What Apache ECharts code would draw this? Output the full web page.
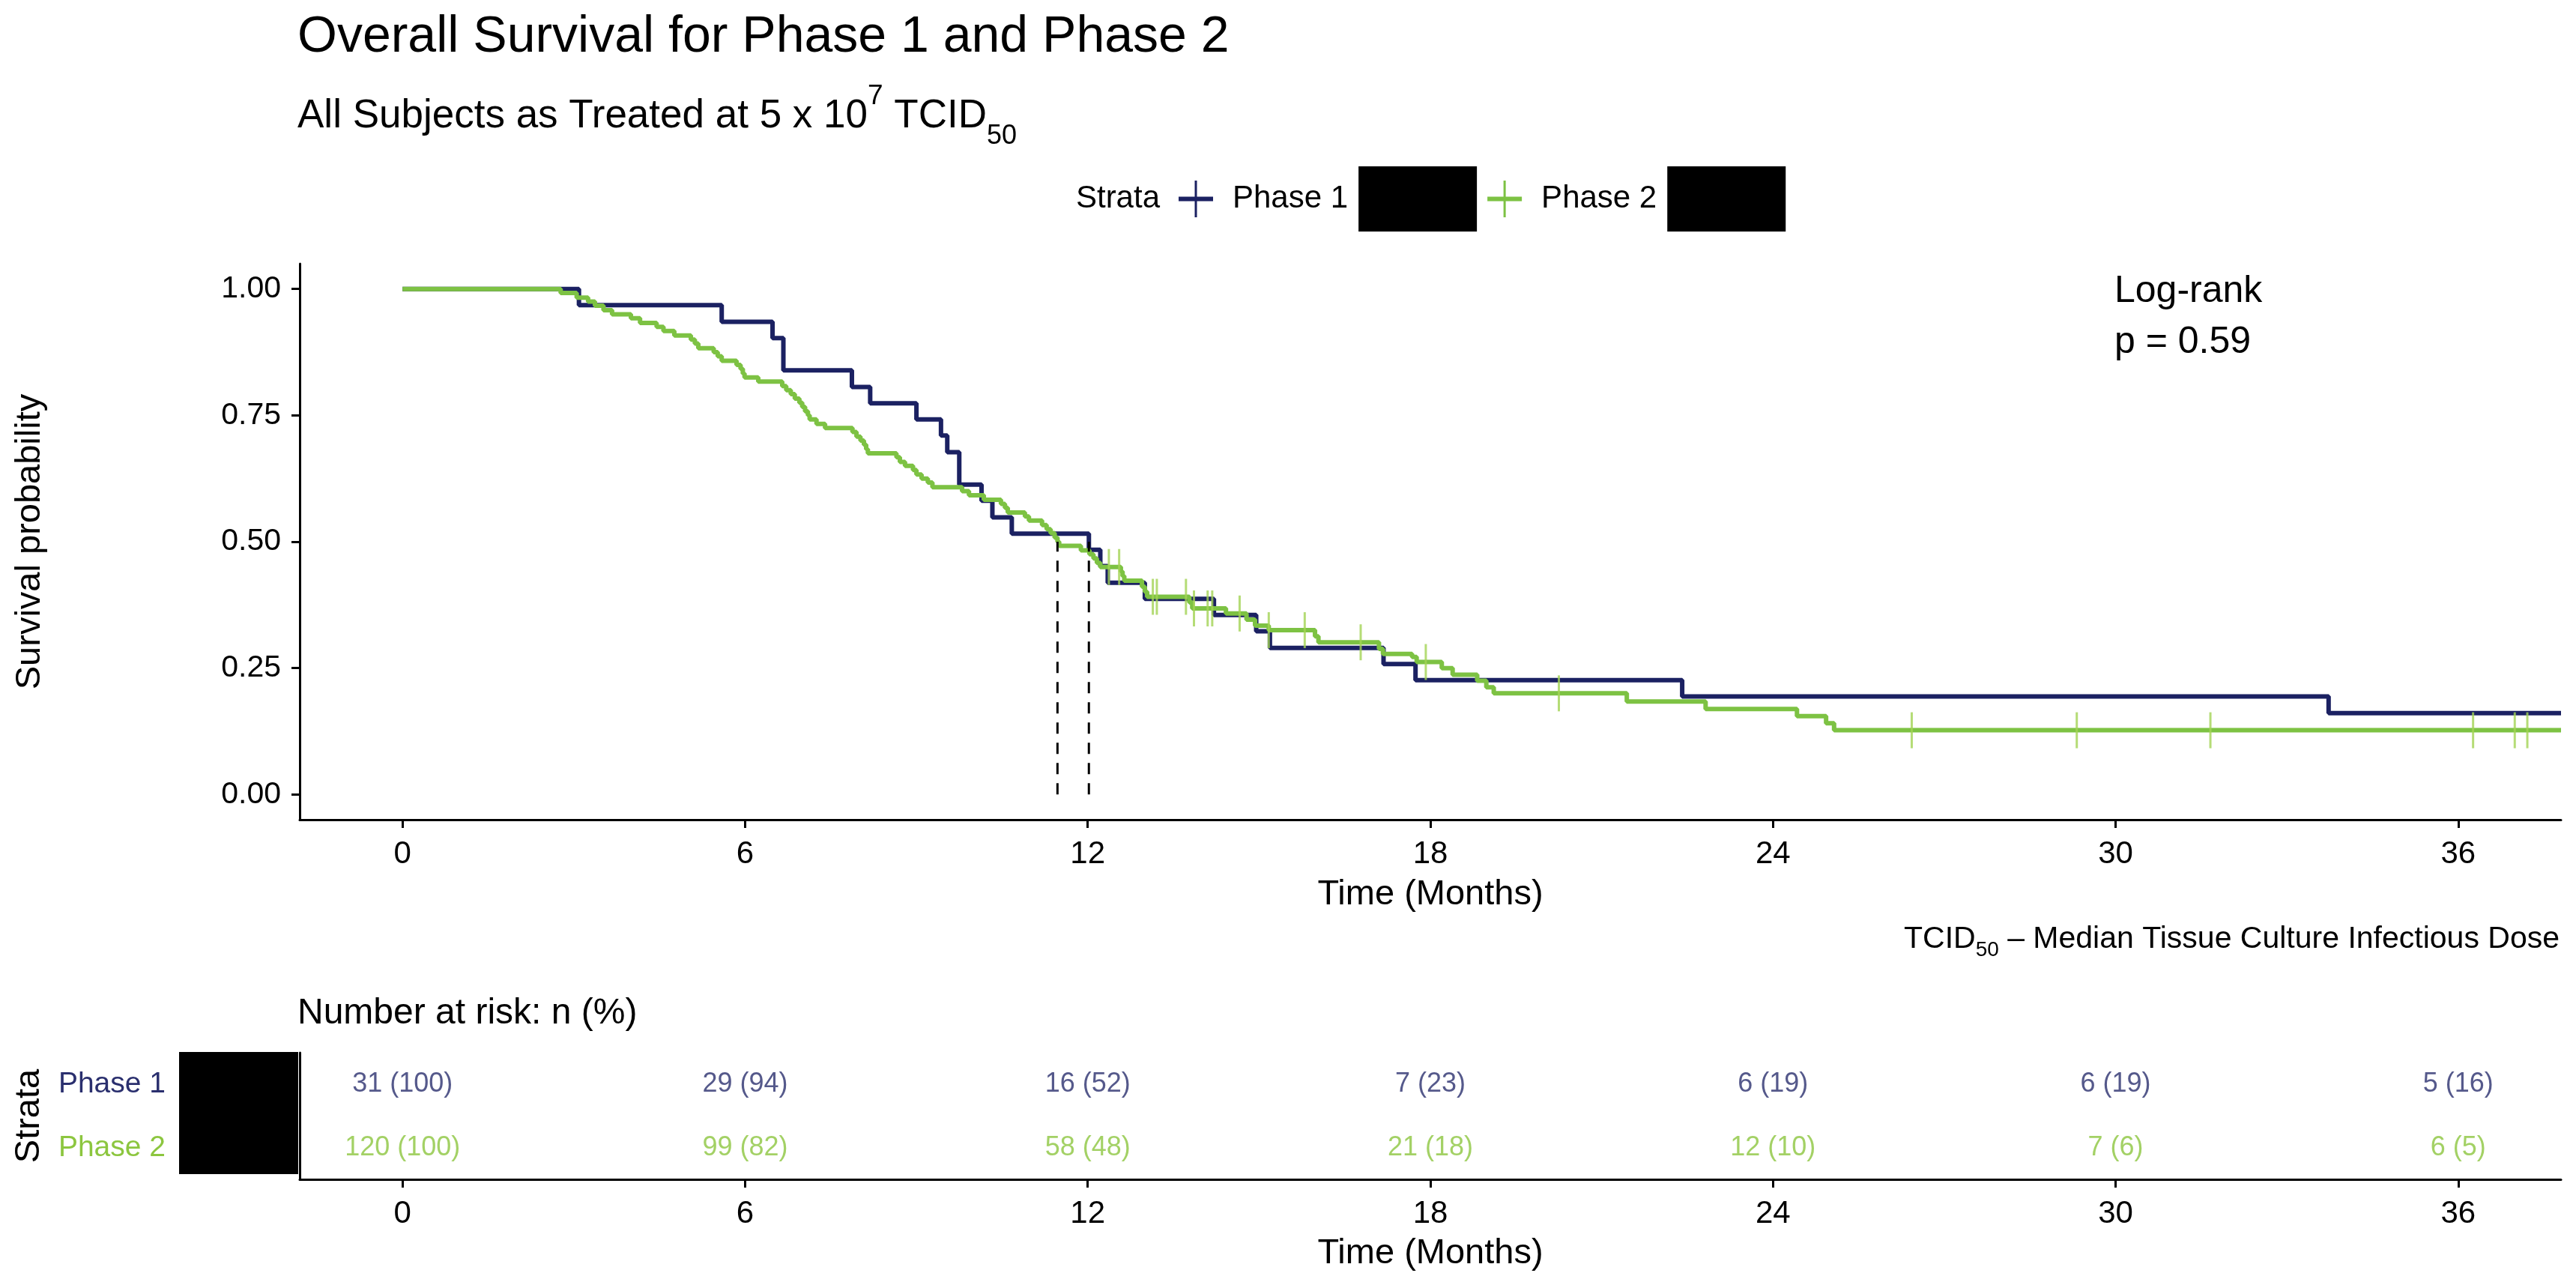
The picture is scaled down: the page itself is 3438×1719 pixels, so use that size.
<!DOCTYPE html>
<html>
<head>
<meta charset="utf-8">
<style>
  html, body { margin: 0; padding: 0; background: #ffffff; }
  #chart { width: 3438px; height: 1719px; }
</style>
<script src="https://cdn.jsdelivr.net/npm/echarts@6/dist/echarts.min.js"></script>
</head>
<body>
<div id="chart"></div>
<script>
// ---------------- data ----------------
const timeTicks = [0, 6, 12, 18, 24, 30, 36];
const survTicks = [0, 0.25, 0.5, 0.75, 1];
const strataNames = ['Phase 1', 'Phase 2'];

// Kaplan-Meier steps: [time (months), survival after event]
const phase1Steps = [
  [0, 1.000], [3.09, 0.968], [5.59, 0.935], [6.48, 0.903], [6.67, 0.839],
  [7.87, 0.806], [8.19, 0.774], [9.00, 0.742], [9.43, 0.710], [9.54, 0.677],
  [9.75, 0.613], [10.14, 0.581], [10.33, 0.548], [10.67, 0.516], [12.02, 0.484],
  [12.22, 0.452], [12.35, 0.419], [13.00, 0.387], [14.21, 0.355], [14.95, 0.323],
  [15.19, 0.290], [17.18, 0.258], [17.74, 0.226], [22.41, 0.194], [33.73, 0.161]
];
const phase2Steps = [
  [0, 1.000], [2.77, 0.992], [3.05, 0.983], [3.25, 0.975], [3.37, 0.967],
  [3.52, 0.958], [3.67, 0.950], [4.00, 0.942], [4.16, 0.933], [4.45, 0.925],
  [4.57, 0.917], [4.76, 0.908], [5.05, 0.900], [5.12, 0.892], [5.18, 0.883],
  [5.45, 0.875], [5.52, 0.867], [5.59, 0.858], [5.85, 0.850], [5.92, 0.842],
  [5.96, 0.833], [5.99, 0.825], [6.23, 0.817], [6.65, 0.808], [6.72, 0.800],
  [6.80, 0.792], [6.87, 0.783], [6.95, 0.775], [7.00, 0.767], [7.05, 0.758],
  [7.10, 0.750], [7.13, 0.742], [7.25, 0.733], [7.40, 0.725], [7.88, 0.717],
  [7.95, 0.708], [8.02, 0.700], [8.08, 0.692], [8.12, 0.683], [8.15, 0.675],
  [8.65, 0.667], [8.71, 0.658], [8.80, 0.650], [8.94, 0.642], [9.00, 0.633],
  [9.09, 0.625], [9.20, 0.617], [9.28, 0.608], [9.80, 0.600], [9.92, 0.592],
  [10.18, 0.583], [10.48, 0.575], [10.55, 0.567], [10.60, 0.558], [10.90, 0.550],
  [10.97, 0.542], [11.20, 0.533], [11.28, 0.525], [11.35, 0.517], [11.42, 0.508],
  [11.47, 0.500], [11.50, 0.492], [11.88, 0.483], [12.03, 0.475], [12.10, 0.467],
  [12.16, 0.458], [12.22, 0.450], [12.58, 0.441], [12.61, 0.432], [12.64, 0.423],
  [12.95, 0.411], [13.00, 0.401], [13.04, 0.391], [13.78, 0.380], [13.83, 0.368],
  [14.42, 0.358], [14.78, 0.346], [14.93, 0.334], [15.17, 0.325], [15.98, 0.313],
  [16.04, 0.301], [17.10, 0.288], [17.17, 0.278], [17.68, 0.272], [17.76, 0.262],
  [18.20, 0.250], [18.39, 0.237], [18.82, 0.225], [18.98, 0.212], [19.11, 0.200],
  [21.44, 0.184], [22.82, 0.169], [24.42, 0.155], [24.93, 0.141], [25.07, 0.127]
];
const phase2CensorTimes = [
  12.37, 12.55, 13.14, 13.21, 13.72, 13.86, 14.10, 14.18, 14.66, 15.17,
  15.80, 16.78, 17.92, 20.25, 26.43, 29.32, 31.66, 36.26, 36.99, 37.21
];
const medianTimes = [12.02, 11.47];   // Phase 1, Phase 2

// Number at risk table
const riskN1 = [31, 29, 16, 7, 6, 6, 5];
const riskPct1 = [100, 94, 52, 23, 19, 19, 16];
const riskN2 = [120, 99, 58, 21, 12, 7, 6];
const riskPct2 = [100, 82, 48, 18, 10, 6, 5];

// ---------------- style ----------------
const BLUE = '#1b2162';
const GREEN = '#7dc243';
const CENSOR = '#a3d354';
const BLUE_TXT = '#2a2f6e';
const GREEN_TXT = '#8cc63f';
const FONT = '"Liberation Sans", Arial, sans-serif';
const X_MIN = -1.8, X_MAX = 37.8;

function survAt(steps, t) {
  let s = steps[0][1];
  for (const p of steps) { if (p[0] <= t) s = p[1]; else break; }
  return s;
}
function withEnd(steps) {
  return steps.concat([[X_MAX, steps[steps.length - 1][1]]]);
}

const plusIcon = 'path://M0,21.5L46,21.5L46,27.5L0,27.5Z M21.5,0L24.5,0L24.5,49L21.5,49Z';

const chart = echarts.init(document.getElementById('chart'), null, { renderer: 'canvas' });

const axisLineStyle = { color: '#000', width: 3 };

const option = {
  animation: false,
  backgroundColor: '#ffffff',
  textStyle: { fontFamily: FONT },
  title: [
    {
      text: 'Overall Survival for Phase 1 and Phase 2',
      left: 397, top: 16, padding: 0,
      textStyle: { fontSize: 68, fontWeight: 'normal', color: '#000', fontFamily: FONT }
    },
    {
      text: '{a|All Subjects as Treated at 5 x 10}{p|7}{a| TCID}{b|50}',
      left: 397, top: 110, padding: 0,
      textStyle: {
        fontFamily: FONT, fontWeight: 'normal',
        rich: {
          a: { fontSize: 53, lineHeight: 90, color: '#000', fontFamily: FONT, fontWeight: 'normal' },
          p: { fontSize: 37, lineHeight: 37, verticalAlign: 'top', color: '#000', fontFamily: FONT, fontWeight: 'normal' },
          b: { fontSize: 36, lineHeight: 56, verticalAlign: 'bottom', color: '#000', fontFamily: FONT, fontWeight: 'normal' }
        }
      }
    },
    {
      text: 'Number at risk: n (%)',
      left: 397, top: 1353 - 24, padding: 0,
      textStyle: { fontSize: 48, fontWeight: 'normal', color: '#000', fontFamily: FONT }
    }
  ],
  legend: {
    data: [
      { name: strataNames[0], icon: plusIcon },
      { name: strataNames[1], icon: plusIcon }
    ],
    left: 1573, top: 222, padding: 0,
    itemWidth: 46, itemHeight: 49, itemGap: 14,
    selectedMode: false,
    formatter: function (name) { return '{s|}{t|' + name + '}{s2|}{k|}'; },
    textStyle: {
      fontSize: 42, color: '#000', fontFamily: FONT,
      rich: {
        s: { width: 21 },
        t: { fontSize: 42, color: '#000', fontFamily: FONT },
        s2: { width: 14 },
        k: { width: 158, height: 87, backgroundColor: '#000' }
      }
    }
  },
  grid: [
    { left: 400, top: 352, width: 3018, height: 742, containLabel: false, outerBoundsMode: 'none' },
    { left: 400, top: 1405, width: 3018, height: 169, containLabel: false, outerBoundsMode: 'none' }
  ],
  xAxis: [
    {
      gridIndex: 0, type: 'value', min: X_MIN, max: X_MAX,
      axisLine: { show: true, onZero: false, lineStyle: axisLineStyle },
      axisTick: { show: true, customValues: timeTicks, length: 11, lineStyle: { color: '#000', width: 3 } },
      axisLabel: { customValues: timeTicks, margin: 25, fontSize: 42, color: '#000', fontFamily: FONT },
      splitLine: { show: false },
      name: 'Time (Months)', nameLocation: 'middle', nameGap: 77,
      nameTextStyle: { fontSize: 47, color: '#000', fontFamily: FONT }
    },
    {
      gridIndex: 1, type: 'value', min: X_MIN, max: X_MAX,
      axisLine: { show: true, onZero: false, lineStyle: axisLineStyle },
      axisTick: { show: true, customValues: timeTicks, length: 11, lineStyle: { color: '#000', width: 3 } },
      axisLabel: { customValues: timeTicks, margin: 25, fontSize: 42, color: '#000', fontFamily: FONT },
      splitLine: { show: false },
      name: 'Time (Months)', nameLocation: 'middle', nameGap: 76,
      nameTextStyle: { fontSize: 47, color: '#000', fontFamily: FONT }
    }
  ],
  yAxis: [
    {
      gridIndex: 0, type: 'value', min: -0.05, max: 1.05,
      axisLine: { show: true, onZero: false, lineStyle: axisLineStyle },
      axisTick: { show: true, customValues: survTicks, length: 11, lineStyle: { color: '#000', width: 3 } },
      axisLabel: {
        customValues: survTicks, margin: 25, fontSize: 41, color: '#000', fontFamily: FONT,
        formatter: function (v) { return Number(v).toFixed(2); }
      },
      splitLine: { show: false },
      name: 'Survival probability', nameLocation: 'middle', nameGap: 336,
      nameTextStyle: { fontSize: 47, color: '#000', fontFamily: FONT }
    },
    {
      gridIndex: 1, type: 'category', data: [strataNames[1], strataNames[0]],
      axisLine: { show: true, onZero: false, lineStyle: axisLineStyle },
      axisTick: { show: false },
      axisLabel: {
        margin: 179, fontFamily: FONT,
        formatter: function (v) { return v === strataNames[0] ? '{p1|' + v + '}' : '{p2|' + v + '}'; },
        rich: {
          p1: { color: BLUE_TXT, fontSize: 39, fontFamily: FONT },
          p2: { color: GREEN_TXT, fontSize: 39, fontFamily: FONT }
        }
      },
      splitLine: { show: false },
      name: 'Strata', nameLocation: 'middle', nameGap: 337,
      nameTextStyle: { fontSize: 47, color: '#000', fontFamily: FONT }
    }
  ],
  series: [
    {
      name: strataNames[0], type: 'line', xAxisIndex: 0, yAxisIndex: 0,
      step: 'end', showSymbol: false, symbol: 'none',
      data: withEnd(phase1Steps),
      lineStyle: { color: BLUE, width: 6 }, itemStyle: { color: BLUE }, z: 2
    },
    {
      name: strataNames[1], type: 'line', xAxisIndex: 0, yAxisIndex: 0,
      step: 'end', showSymbol: false, symbol: 'none',
      data: withEnd(phase2Steps),
      lineStyle: { color: GREEN, width: 6 }, itemStyle: { color: GREEN }, z: 3
    },
    {
      name: 'Phase 2 censored', type: 'scatter', xAxisIndex: 0, yAxisIndex: 0,
      symbol: 'rect', symbolSize: [3, 48],
      data: phase2CensorTimes.map(function (t) { return [t, survAt(phase2Steps, t)]; }),
      itemStyle: { color: CENSOR }, z: 4, silent: true
    },
    {
      name: 'Median Phase 1', type: 'line', xAxisIndex: 0, yAxisIndex: 0,
      showSymbol: false, symbol: 'none',
      data: [[medianTimes[0], 0], [medianTimes[0], 0.5]],
      lineStyle: { color: '#000', width: 3, type: [15, 12] }, z: 5
    },
    {
      name: 'Median Phase 2', type: 'line', xAxisIndex: 0, yAxisIndex: 0,
      showSymbol: false, symbol: 'none',
      data: [[medianTimes[1], 0], [medianTimes[1], 0.5]],
      lineStyle: { color: '#000', width: 3, type: [15, 12] }, z: 5
    },
    {
      name: 'Risk Phase 1', type: 'scatter', xAxisIndex: 1, yAxisIndex: 1,
      symbolSize: 1, itemStyle: { color: 'rgba(0,0,0,0)' },
      data: timeTicks.map(function (t) { return [t, 1]; }),
      label: {
        show: true, position: 'inside', fontSize: 36, color: BLUE_TXT, fontFamily: FONT,
        formatter: function (p) { return riskN1[p.dataIndex] + ' (' + riskPct1[p.dataIndex] + ')'; }
      },
      silent: true
    },
    {
      name: 'Risk Phase 2', type: 'scatter', xAxisIndex: 1, yAxisIndex: 1,
      symbolSize: 1, itemStyle: { color: 'rgba(0,0,0,0)' },
      data: timeTicks.map(function (t) { return [t, 0]; }),
      label: {
        show: true, position: 'inside', fontSize: 36, color: GREEN_TXT, fontFamily: FONT,
        formatter: function (p) { return riskN2[p.dataIndex] + ' (' + riskPct2[p.dataIndex] + ')'; }
      },
      silent: true
    }
  ],
  graphic: [
    {
      type: 'text', x: 1548, y: 265, z: 10,
      style: { text: 'Strata', fontSize: 42, fontFamily: FONT, fill: '#000', align: 'right', verticalAlign: 'middle' }
    },
    {
      type: 'text', x: 2822, y: 355, z: 10,
      style: { text: 'Log-rank\np = 0.59', fontSize: 50, lineHeight: 68, fontFamily: FONT, fill: '#000', align: 'left', verticalAlign: 'top' }
    },
    {
      type: 'text', x: 3416, y: 1254, z: 10,
      style: {
        text: '{a|TCID}{b|50}{a| \u2013 Median Tissue Culture Infectious Dose}',
        align: 'right', verticalAlign: 'middle', fontFamily: FONT,
        rich: {
          a: { fontSize: 41, lineHeight: 56, fill: '#000', fontFamily: FONT },
          b: { fontSize: 28, lineHeight: 36, verticalAlign: 'bottom', fill: '#000', fontFamily: FONT }
        }
      }
    },
    {
      type: 'rect', z: 10,
      shape: { x: 239, y: 1404, width: 159, height: 163 },
      style: { fill: '#000' }
    }
  ]
};

chart.setOption(option);
</script>
</body>
</html>
